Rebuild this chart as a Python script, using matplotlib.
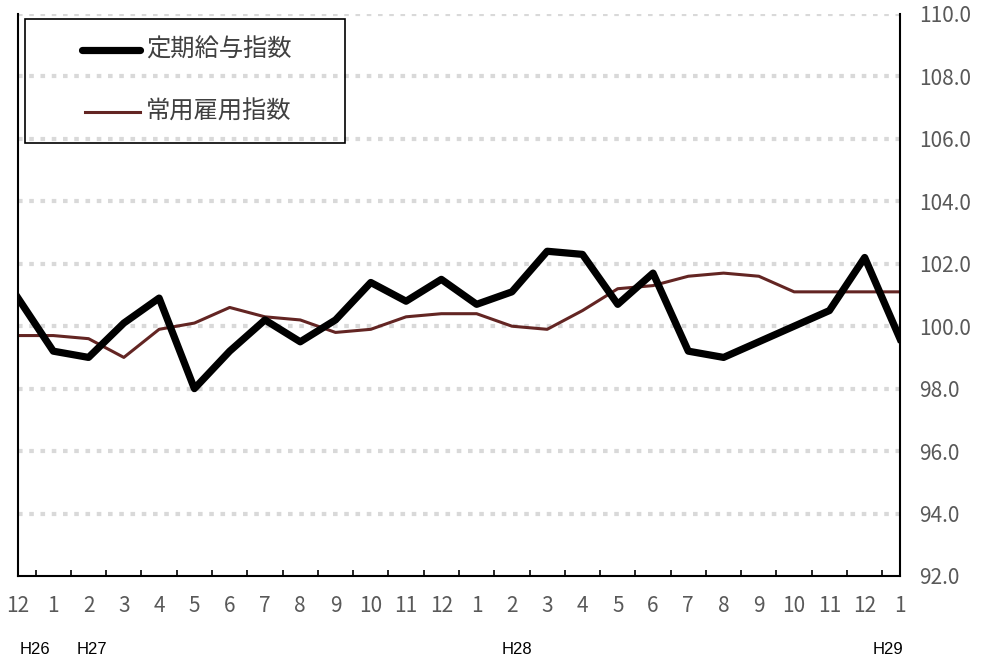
import numpy as np
import matplotlib
matplotlib.use("Agg")
import matplotlib.pyplot as plt
from matplotlib.patches import Rectangle
from matplotlib.lines import Line2D

plt.rcParams['font.family'] = ['Noto Sans CJK JP', 'DejaVu Sans']

months = ['12', '1', '2', '3', '4', '5', '6', '7', '8', '9', '10', '11', '12',
          '1', '2', '3', '4', '5', '6', '7', '8', '9', '10', '11', '12', '1']
wage_index = [100.9, 99.2, 99.0, 100.1, 100.9, 98.0, 99.2, 100.2, 99.5, 100.2,
              101.4, 100.8, 101.5, 100.7, 101.1, 102.4, 102.3, 100.7, 101.7, 99.2,
              99.0, 99.5, 100.0, 100.5, 102.2, 99.6]
employ_index = [99.7, 99.7, 99.6, 99.0, 99.9, 100.1, 100.6, 100.3, 100.2, 99.8,
                99.9, 100.3, 100.4, 100.4, 100.0, 99.9, 100.5, 101.2, 101.3, 101.6,
                101.7, 101.6, 101.1, 101.1, 101.1, 101.1]
labels = ['定期給与指数', '常用雇用指数']
eras = ['H26', 'H27', 'H28', 'H29']
era_pos = [0.48, 2.1, 14.14, 24.66]

x = np.arange(len(months))

fig = plt.figure(figsize=(9.84, 6.59), dpi=100)
ax = fig.add_axes([0.0183, 0.126, 0.8963, 0.8528])

# grid
for v in np.arange(94, 110.1, 2):
    ax.axhline(v, color='#d9d9d9', lw=3.0, ls=(0, (1.1, 1.6)), zorder=1)

ax.plot(x, wage_index, color='black', lw=5.2, zorder=3)
ax.plot(x, employ_index, color='#632523', lw=2.2, zorder=2)

ax.set_xlim(0, 25)
ax.set_ylim(92, 110)

ax.spines['top'].set_visible(False)
for s in ['left', 'right', 'bottom']:
    ax.spines[s].set_linewidth(1.5)
    ax.spines[s].set_color('black')

ax.yaxis.tick_right()
ax.set_yticks(np.arange(92, 110.1, 2))
ax.set_yticklabels(['%.1f' % v for v in np.arange(92, 110.1, 2)])
ax.tick_params(axis='y', length=0, pad=14, labelsize=15, labelcolor='#595959')

ax.set_xticks(x)
ax.set_xticklabels(months)
ax.tick_params(axis='x', length=0, pad=14, labelsize=15, labelcolor='#595959')
ax.set_xticks(x[:-1] + 0.5, minor=True)
ax.tick_params(axis='x', which='minor', direction='in', length=4, width=1.2, color='black')

for e, p in zip(eras, era_pos):
    ax.text(p, -0.1317, e, transform=ax.get_xaxis_transform(), ha='center', va='center',
            fontsize=12, family=['Liberation Sans', 'DejaVu Sans'], color='black')

# legend box
ax.add_patch(Rectangle((0.0079, 0.7705), 0.3628, 0.2206, transform=ax.transAxes,
                       fill=False, edgecolor='black', lw=1.2, zorder=5))
ax.add_line(Line2D([0.0726, 0.1383], [0.936, 0.936], transform=ax.transAxes,
                   color='black', lw=5.2, solid_capstyle='round', zorder=5))
ax.add_line(Line2D([0.0760, 0.1383], [0.8256, 0.8256], transform=ax.transAxes,
                   color='#632523', lw=2.2, zorder=5))
ax.text(0.1451, 0.936, labels[0], transform=ax.transAxes, va='center', ha='left',
        fontsize=17.5, color='#404040', zorder=5)
ax.text(0.1451, 0.8256, labels[1], transform=ax.transAxes, va='center', ha='left',
        fontsize=17.5, color='#404040', zorder=5)

fig.savefig('out.png', dpi=100)
